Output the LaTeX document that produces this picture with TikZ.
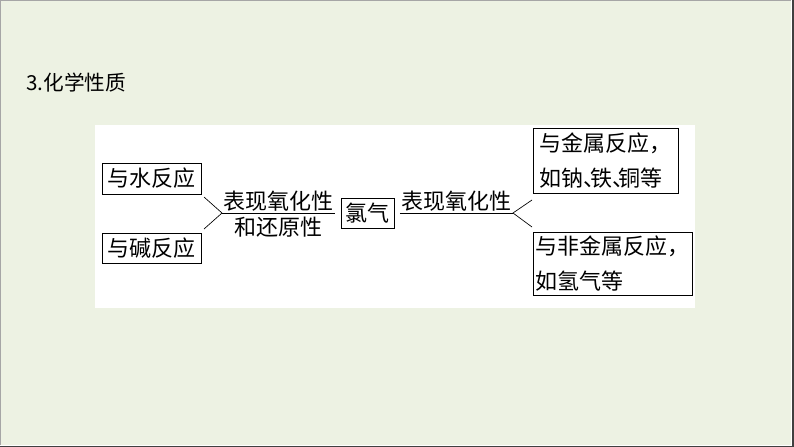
\documentclass[tikz,border=0pt]{standalone}
\usepackage{fontspec}
\newfontfamily\zw{Noto Sans CJK SC}
\definecolor{beijing}{RGB}{237,242,227}
\newcommand{\dunhao}{\makebox[.3em][l]{、}}
\tikzset{
  kuang/.style={draw, line width=0.75pt, inner sep=0pt, align=left, font=\zw\fontsize{16.5}{26}\selectfont},
  wenzi/.style={inner xsep=1pt, inner ysep=1pt, font=\zw\fontsize{16.5}{20}\selectfont},
  zhi/.style={line width=0.5pt}
}
\begin{document}
\begin{tikzpicture}[x=0.75pt,y=-0.75pt]
		\useasboundingbox (0,0) rectangle (794,447);
		\fill[beijing] (0,0) rectangle (794,447);
		\draw[gray!70] (794,0.5) -- (0.5,0.5) -- (0.5,447);
		\draw[white] (791,0) -- (791,445) -- (0,445);
		\draw[black!75,line width=1.5pt] (793,0) -- (793,446.5) -- (0,446.5);
		\fill[white] (95,125) rectangle (695,308);
		\node[anchor=base west, inner sep=0pt, font=\zw\fontsize{15.5}{18}\selectfont] (biaoti) at (26,90) {3.化学性质};
		\node[kuang, minimum width=74.25pt, minimum height=23.25pt] (shui) at (151.5,178.5) {与水反应};
		\node[kuang, minimum width=74.25pt, minimum height=22.5pt] (jian) at (151.5,248) {与碱反应};
		\node[kuang, minimum width=39.75pt, minimum height=22.5pt] (lvqi) at (367.5,213) {氯气};
		\node[kuang, minimum width=108.75pt, minimum height=48.75pt] (jinshu) at (605.5,160.5) {与金属反应，\\如钠\dunhao 铁\dunhao 铜等};
		\node[kuang, minimum width=119.25pt, minimum height=47.25pt] (feijinshu) at (612.5,263.5) {与非金属反应，\\如氢气等};
		\coordinate (zuo) at (222,213);
		\node[wenzi, anchor=south west] (yang) at (zuo) {表现氧化性};
		\node[wenzi, anchor=north, inner ysep=3pt] (huan) at (yang.south) {和还原性};
		\draw[zhi] (yang.south west) -- (yang.south east);
		\coordinate (z1) at (204,197);
		\coordinate (z2) at (204,229);
		\draw[zhi] (z1) -- (zuo) -- (z2);
		\coordinate (you) at (513,213);
		\node[wenzi, anchor=south east] (yang2) at (you) {表现氧化性};
		\draw[zhi] (yang2.south west) -- (you);
		\coordinate (y1) at (532,200);
		\coordinate (y2) at (532,227);
		\draw[zhi] (y1) -- (you) -- (y2);
	\end{tikzpicture}
\end{document}
